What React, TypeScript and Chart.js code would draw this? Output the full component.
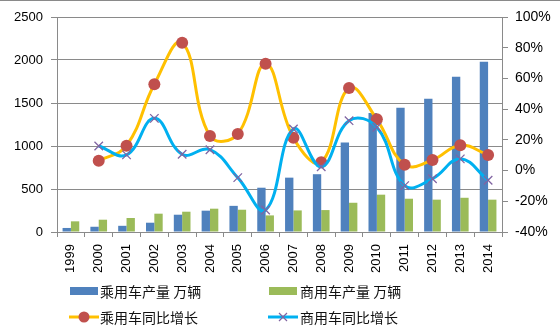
import React, { useEffect, useRef } from "react";
import { Chart, registerables } from "chart.js";

Chart.register(...registerables);

const years = ["1999", "2000", "2001", "2002", "2003", "2004", "2005", "2006", "2007", "2008", "2009", "2010", "2011", "2012", "2013", "2014"];
const passengerOutput = [47, 61, 72, 108, 201, 248, 304, 515, 632, 672, 1042, 1383, 1445, 1550, 1806, 1980];
const commercialOutput = [124, 143, 163, 213, 236, 271, 259, 193, 251, 255, 340, 434, 387, 376, 398, 376];
const passengerGrowth = [null, 6.4, 16.2, 56.2, 83.3, 22.5, 23.8, 69.6, 21.4, 5.4, 53.8, 33.4, 3.8, 6.9, 16.5, 10.2];
const commercialGrowth = [null, 16.0, 10.2, 34.0, 10.6, 13.6, -4.6, -25.7, 27.1, 2.5, 32.5, 28.2, -9.8, -5.3, 7.6, -6.3];
const leftTicks = [0, 500, 1000, 1500, 2000, 2500];
const rightTicks = [-40, -20, 0, 20, 40, 60, 80, 100];
const seriesNames = ["乘用车产量 万辆", "商用车产量 万辆", "乘用车同比增长", "商用车同比增长"];

const BLUE = "#4F81BD";
const GREEN = "#9BBB59";
const ORANGE = "#FFC000";
const RED = "#C0504D";
const CYAN = "#00B0F0";
const PURPLE = "#8064A2";
const GRID = "#8a8a8a";
const TICK_FONT = { family: "'Liberation Sans', Arial, sans-serif", size: 13 };
const CJK = "'Noto Sans CJK SC', sans-serif";

const legendPlugin = {
  id: "customLegend",
  afterDraw(chart: any) {
    const ctx = chart.ctx;
    ctx.save();
    ctx.strokeStyle = GRID;
    ctx.lineWidth = 1;
    ctx.beginPath();
    ctx.moveTo(0, 0.5);
    ctx.lineTo(chart.width, 0.5);
    ctx.stroke();

    ctx.font = `14px ${CJK}`;
    ctx.textBaseline = "middle";
    ctx.textAlign = "left";
    const cols = [70, 269];
    const rows = [291, 317];
    ctx.fillStyle = BLUE;
    ctx.fillRect(cols[0], rows[0] - 4, 28, 8);
    ctx.fillStyle = GREEN;
    ctx.fillRect(cols[1], rows[0] - 4, 28, 8);
    ctx.lineWidth = 3;
    ctx.strokeStyle = ORANGE;
    ctx.beginPath();
    ctx.moveTo(cols[0] - 1, rows[1]);
    ctx.lineTo(cols[0] + 29, rows[1]);
    ctx.stroke();
    ctx.fillStyle = RED;
    ctx.beginPath();
    ctx.arc(cols[0] + 14, rows[1], 5.5, 0, Math.PI * 2);
    ctx.fill();
    ctx.strokeStyle = CYAN;
    ctx.beginPath();
    ctx.moveTo(cols[1] - 1, rows[1]);
    ctx.lineTo(cols[1] + 29, rows[1]);
    ctx.stroke();
    ctx.strokeStyle = PURPLE;
    ctx.lineWidth = 1.2;
    const cx = cols[1] + 14;
    const r = 4;
    ctx.beginPath();
    ctx.moveTo(cx - r, rows[1] - r);
    ctx.lineTo(cx + r, rows[1] + r);
    ctx.moveTo(cx + r, rows[1] - r);
    ctx.lineTo(cx - r, rows[1] + r);
    ctx.stroke();

    ctx.fillStyle = "#111";
    ctx.fillText(seriesNames[0], cols[0] + 30, rows[0] + 1);
    ctx.fillText(seriesNames[1], cols[1] + 31, rows[0] + 1);
    ctx.fillText(seriesNames[2], cols[0] + 30, rows[1] + 1);
    ctx.fillText(seriesNames[3], cols[1] + 31, rows[1] + 1);
    ctx.restore();
  },
};

export default function App() {
  const ref = useRef<HTMLCanvasElement | null>(null);
  useEffect(() => {
    document.body.style.margin = "0";
    const canvas = ref.current;
    if (!canvas) return;
    const chart = new Chart(canvas, {
      type: "bar",
      data: {
        labels: years,
        datasets: [
          {
            type: "line",
            label: seriesNames[3],
            data: commercialGrowth,
            yAxisID: "y1",
            borderColor: CYAN,
            borderWidth: 3,
            tension: 0.42,
            pointStyle: "crossRot",
            pointRadius: 6,
            pointBorderColor: PURPLE,
            pointBackgroundColor: PURPLE,
            pointBorderWidth: 1.3,
            order: 1,
          } as any,
          {
            type: "line",
            label: seriesNames[2],
            data: passengerGrowth,
            yAxisID: "y1",
            borderColor: ORANGE,
            borderWidth: 3,
            tension: 0.42,
            pointStyle: "circle",
            pointRadius: 6,
            pointBorderColor: RED,
            pointBackgroundColor: RED,
            pointBorderWidth: 0,
            order: 2,
          } as any,
          {
            type: "bar",
            label: seriesNames[0],
            data: passengerOutput,
            yAxisID: "y",
            backgroundColor: BLUE,
            barPercentage: 1,
            categoryPercentage: 0.6,
            order: 3,
          },
          {
            type: "bar",
            label: seriesNames[1],
            data: commercialOutput,
            yAxisID: "y",
            backgroundColor: GREEN,
            barPercentage: 1,
            categoryPercentage: 0.6,
            order: 4,
          },
        ],
      },
      options: {
        responsive: false,
        animation: false,
        layout: { padding: { top: 17, bottom: 55, left: 0, right: 0 } },
        plugins: { legend: { display: false }, tooltip: { enabled: false } },
        scales: {
          x: {
            offset: true,
            grid: { drawOnChartArea: false, drawTicks: true, tickLength: 5, color: GRID, offset: true },
            border: { display: true, color: GRID },
            ticks: { autoSkip: false, minRotation: 90, maxRotation: 90, color: "#000", font: TICK_FONT, padding: 7 },
            afterFit: (s: any) => { s.height = 43; },
          },
          y: {
            position: "left",
            min: 0,
            max: 2500,
            afterBuildTicks: (s: any) => { s.ticks = leftTicks.map((v) => ({ value: v })); },
            grid: { color: GRID, tickLength: 6, drawTicks: true },
            border: { display: true, color: GRID },
            ticks: { color: "#000", font: TICK_FONT, padding: 8, callback: (v: any) => String(v) },
            afterFit: (s: any) => { s.width = 57; },
          },
          y1: {
            position: "right",
            min: -40,
            max: 100,
            afterBuildTicks: (s: any) => { s.ticks = rightTicks.map((v) => ({ value: v })); },
            grid: { drawOnChartArea: false, color: GRID, tickLength: 6, drawTicks: true },
            border: { display: true, color: GRID },
            ticks: { color: "#000", font: { family: TICK_FONT.family, size: 14 }, padding: 7, callback: (v: any) => `${v}%` },
            afterFit: (s: any) => { s.width = 58; },
          },
        },
      },
      plugins: [legendPlugin],
    });
    return () => chart.destroy();
  }, []);
  return (
    <div style={{ width: 560, height: 330, background: "#fff" }}>
      <canvas ref={ref} width={560} height={330} style={{ display: "block" }} />
    </div>
  );
}
